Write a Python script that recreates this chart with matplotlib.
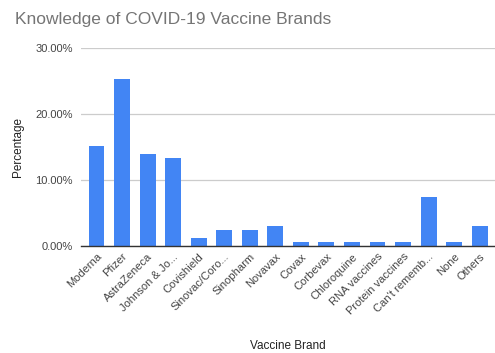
import numpy as np
import matplotlib.pyplot as plt
from matplotlib.ticker import FuncFormatter

plt.rcParams['font.family'] = ['Liberation Sans', 'DejaVu Sans']

brands = ['Moderna', 'Pfizer', 'AstraZeneca', 'Johnson & Jo...', 'Covishield',
          'Sinovac/Coro...', 'Sinopharm', 'Novavax', 'Covax', 'Corbevax',
          'Chloroquine', 'RNA vaccines', 'Protein vaccines', "Can't rememb...",
          'None', 'Others']
pct = [15.2, 25.3, 13.9, 13.3, 1.2, 2.5, 2.5, 3.1, 0.6, 0.6,
       0.6, 0.6, 0.6, 7.5, 0.6, 3.1]

fig = plt.figure(figsize=(4.95, 3.53), dpi=100)
ax = fig.add_axes([0.164, 0.303, 0.836, 0.561])

x = np.arange(len(brands))
ax.bar(x, pct, width=0.62, color='#4285f4', zorder=3)

ax.set_xlim(-0.6, len(brands) - 0.4)
ax.set_ylim(0, 30)
ax.set_yticks([0, 10, 20, 30])
ax.yaxis.set_major_formatter(FuncFormatter(lambda v, p: '%.2f%%' % v))
ax.grid(axis='y', color='#cccccc', linewidth=0.9, zorder=0)
for s in ['top', 'right', 'left']:
    ax.spines[s].set_visible(False)
ax.spines['bottom'].set_color('#333333')
ax.spines['bottom'].set_linewidth(1.0)
ax.spines['bottom'].set_zorder(4)
ax.tick_params(axis='both', length=0, labelcolor='#444444')
ax.tick_params(axis='y', pad=6, labelsize=8)
ax.tick_params(axis='x', pad=4, labelsize=8)

ax.set_xticks(x)
ax.set_xticklabels(brands, rotation=45, ha='right', rotation_mode='anchor')

ax.set_ylabel('Percentage', fontsize=8.5, color='#222222', labelpad=8)
ax.set_xlabel('Vaccine Brand', fontsize=8.5, color='#222222', va='center')
ax.xaxis.set_label_coords(0.5, -0.505)

fig.text(0.03, 0.945, 'Knowledge of COVID-19 Vaccine Brands', fontsize=12.5,
         color='#757575', va='center', ha='left')

fig.savefig('out.png', dpi=100)
